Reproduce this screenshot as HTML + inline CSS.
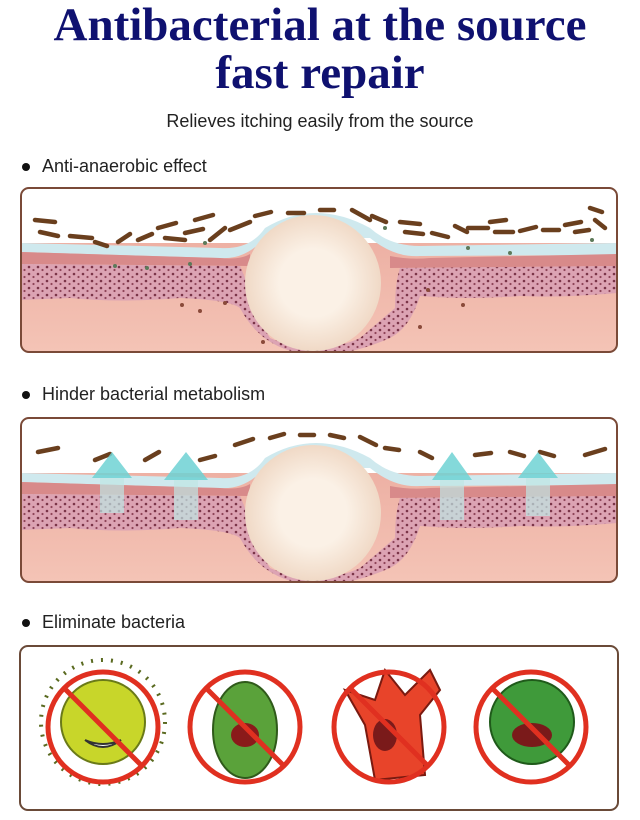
<!DOCTYPE html>
<html><head><meta charset="utf-8"><style>
body{margin:0;width:640px;height:820px;background:#fff;position:relative;overflow:hidden;font-family:"Liberation Sans",sans-serif}
.t{position:absolute;left:0;width:640px;text-align:center;font-family:"Liberation Serif",serif;font-weight:bold;color:#0f1170;font-size:47px;line-height:50px}
.s{position:absolute;left:0;width:640px;text-align:center;font-size:18px;color:#222;top:111px}
.b{position:absolute;left:22px;font-size:18px;color:#222}
.b:before{content:"";display:inline-block;width:8px;height:8px;border-radius:50%;background:#111;margin-right:12px;vertical-align:middle}
svg{position:absolute;left:0}
</style></head><body>
<div class="t" style="top:0">Antibacterial at the source</div>
<div class="t" style="top:48px">fast repair</div>
<div class="s">Relieves itching easily from the source</div>
<div class="b" style="top:156px">Anti-anaerobic effect</div>
<div class="b" style="top:384px">Hinder bacterial metabolism</div>
<div class="b" style="top:612px">Eliminate bacteria</div>
<svg width="640" height="820" style="top:0">
<defs>
<linearGradient id="fl" x1="0" y1="0" x2="0" y2="1"><stop offset="0" stop-color="#eaa79b"/><stop offset="1" stop-color="#f4c4b6"/></linearGradient>
<radialGradient id="cr"><stop offset="0.5" stop-color="#fbf1e6"/><stop offset="1" stop-color="#f0d9c6"/></radialGradient>
<pattern id="dots" width="9" height="7" patternUnits="userSpaceOnUse"><rect width="9" height="7" fill="#dca3b3"/><circle cx="2" cy="2" r="1.3" fill="#7a3448"/><circle cx="6.5" cy="5" r="1.1" fill="#8e4458"/></pattern>
<clipPath id="pc"><rect x="21" y="0" width="596" height="164" rx="8"/></clipPath>
<g id="skin">
<g clip-path="url(#pc)">
<rect x="21" y="0" width="596" height="164" fill="url(#fl)"/>
<rect x="21" y="0" width="596" height="55" fill="#fff"/>
<path d="M21 55 L220 60 Q250 62 265 40 Q315 10 370 40 Q390 58 420 58 L617 55 L617 67 L420 68 Q395 70 370 50 L265 50 Q245 72 220 70 L21 64Z" fill="#cfe9ee"/>
<path d="M21 64 L220 70 Q240 72 250 66 L250 78 L21 76Z" fill="#d88a8a"/>
<path d="M390 68 Q410 72 430 70 L617 66 L617 78 L390 80Z" fill="#d88a8a"/>
<path d="M21 76 L240 78 Q250 100 252 120 L270 150 Q315 170 360 150 L395 120 Q395 95 400 80 L617 78 L617 105 Q560 110 520 108 Q470 112 420 108 Q410 140 390 150 Q340 172 300 165 Q260 158 240 120 Q230 112 180 110 Q120 115 70 110 L21 112Z" fill="url(#dots)"/>
<circle cx="313" cy="95" r="68" fill="url(#cr)"/>
</g>
<rect x="21" y="0" width="596" height="164" rx="8" fill="none" stroke="#7a4a38" stroke-width="2"/>
</g>
<g id="bac" stroke="#6a3f1e" stroke-width="4.5" stroke-linecap="round" fill="none">
<path d="M35 32l20 2M40 44l18 4M70 48l22 2M95 54l12 4M118 54l12-8M138 52l14-6M158 40l18-5M165 50l20 2M185 45l18-4M195 32l18-5M210 52l15-12M230 42l20-8M255 28l16-4M288 25h16M320 22h14M352 22l18 10M372 28l14 6M400 34l20 2M405 44l18 2M432 45l16 4M455 38l12 6M468 40h20M490 34l16-2M495 44h18M520 43l16-4M543 42h16M565 37l16-3M575 44l14-2M595 32l10 8M590 20l12 4"/>
</g>
</defs>
<use href="#skin" y="188"/>
<use href="#bac" y="188"/>
<g fill="#5d7a5a"><circle cx="115" cy="266" r="2"/><circle cx="147" cy="268" r="2"/><circle cx="190" cy="264" r="2"/><circle cx="205" cy="243" r="2"/><circle cx="385" cy="228" r="2"/><circle cx="468" cy="248" r="2"/><circle cx="510" cy="253" r="2"/><circle cx="592" cy="240" r="2"/></g>
<g fill="#8a4a3a"><circle cx="182" cy="305" r="2"/><circle cx="200" cy="311" r="2"/><circle cx="225" cy="303" r="2"/><circle cx="428" cy="290" r="2"/><circle cx="463" cy="305" r="2"/><circle cx="420" cy="327" r="2"/><circle cx="263" cy="342" r="2"/></g>
<use href="#skin" y="418"/>
<g stroke="#6a3f1e" stroke-width="4.5" stroke-linecap="round"><path d="M38 452l20-4M95 460l15-6M145 460l14-8M200 460l15-4M235 445l18-6M270 438l14-4M300 435h14M330 435l14 3M360 437l16 8M385 448l14 2M420 452l12 6M475 455l16-2M510 452l14 4M540 452l14 4M585 455l20-6"/></g>
<g fill="#6ed2d4" opacity="0.85"><path d="M112 452l-20 26h40z"/><path d="M186 452l-22 28h44z"/><path d="M452 452l-20 28h40z"/><path d="M538 452l-20 26h40z"/></g>
<g fill="#bfe6e4" opacity="0.7"><rect x="100" y="478" width="24" height="35"/><rect x="174" y="480" width="24" height="40"/><rect x="440" y="480" width="24" height="40"/><rect x="526" y="478" width="24" height="38"/></g>
<rect x="20" y="646" width="598" height="164" rx="8" fill="#fff" stroke="#6a4a38" stroke-width="2"/>
<g stroke-width="2">
<g stroke="#5a6a20" fill="none"><circle cx="103" cy="722" r="62" stroke-dasharray="2 8" stroke-width="4"/></g>
<circle cx="103" cy="722" r="42" fill="#c8d62a" stroke="#6a7a18"/>
<ellipse cx="245" cy="730" rx="32" ry="48" fill="#5aa23a" stroke="#2f5a1a"/>
<path d="M345 690l30 10 10-30 20 25 25-25 10 20-20 25 5 60-50 5-10-55z" fill="#e8442a" stroke="#7a1a10"/>
<circle cx="532" cy="722" r="42" fill="#3f9a3a" stroke="#1f5a1a"/>
<path d="M85 740q18 14 36 0q-18 8-36 0" fill="#fff" stroke="#333"/>
<ellipse cx="245" cy="735" rx="14" ry="12" fill="#8a1a1a"/>
<ellipse cx="385" cy="735" rx="12" ry="16" fill="#7a1a1a"/>
<ellipse cx="532" cy="735" rx="20" ry="12" fill="#7a1a1a"/>
</g>
<g fill="none" stroke="#e03020" stroke-width="5">
<circle cx="103" cy="727" r="55"/><line x1="64" y1="688" x2="142" y2="766"/>
<circle cx="245" cy="727" r="55"/><line x1="206" y1="688" x2="284" y2="766"/>
<circle cx="389" cy="727" r="55"/><line x1="350" y1="688" x2="428" y2="766"/>
<circle cx="531" cy="727" r="55"/><line x1="492" y1="688" x2="570" y2="766"/>
</g>
</svg>
</body></html>
